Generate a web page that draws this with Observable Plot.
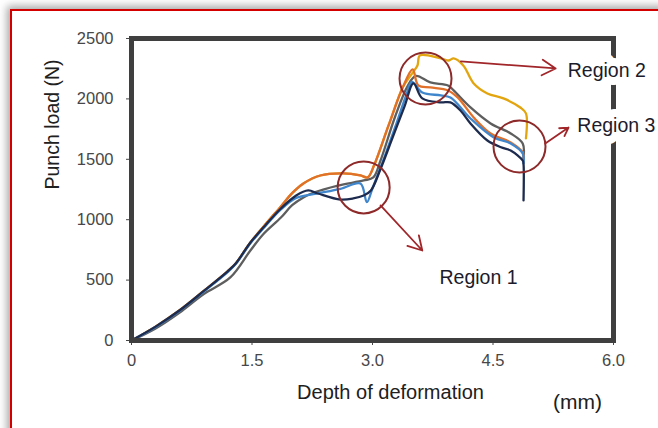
<!DOCTYPE html>
<html>
<head>
<meta charset="utf-8">
<script src="https://cdn.jsdelivr.net/npm/d3@7"></script>
<script src="https://cdn.jsdelivr.net/npm/@observablehq/plot@0.6"></script>
<style>
  html, body { margin: 0; padding: 0; background: #fff; width: 658px; height: 428px; overflow: hidden; }
  #sheet { position: absolute; left: 10px; top: 9px; width: 720px; height: 520px;
           border: 2px solid #d40000; box-shadow: 0 0 8px 3px rgba(0,0,0,0.35); background: #fff; }
  #chart { position: absolute; left: 0; top: 0; }
</style>
</head>
<body>
<div id="sheet"></div>
<div id="chart"></div>
<script>
// ---- tick labels ----
const xTicks = [0, 1.5, 3, 4.5, 6];
const xTickLabels = ["0", "1.5", "3.0", "4.5", "6.0"];
const yTicks = [0, 500, 1000, 1500, 2000, 2500];
const yTickLabels = ["0", "500", "1000", "1500", "2000", "2500"];

// ---- series (depth mm, load N) ----
const seriesNames = ["yellow", "gray", "orange", "blue", "navy"];

const yellowX = [0,0.3,0.6,0.9,1.2,1.3,1.48,1.64,1.86,2.0,2.14,2.35,2.64,2.85,2.94,3.02,3.2,3.38,3.49,3.56,3.59,3.85,3.95,4.01,4.13,4.26,4.43,4.63,4.84,4.91,4.91];
const yellowY = [0,115,250,410,575,640,811,940,1110,1220,1300,1366,1383,1366,1350,1450,1780,2100,2208,2277,2360,2335,2318,2335,2277,2128,2045,2004,1929,1880,1673];

const grayX = [0,0.3,0.6,0.9,1.23,1.48,1.64,1.86,2.0,2.14,2.27,2.57,2.89,3.01,3.1,3.28,3.44,3.54,3.72,3.94,4.01,4.22,4.47,4.72,4.87,4.88];
const grayY = [0,100,232,385,522,745,880,1018,1120,1184,1225,1283,1325,1350,1490,1850,2110,2190,2136,2111,2070,1929,1797,1714,1631,1515];

const orangeX = [0,0.3,0.6,0.9,1.2,1.3,1.48,1.64,1.86,2.0,2.14,2.35,2.64,2.85,2.94,3.02,3.2,3.38,3.5,3.57,3.72,3.94,4.06,4.26,4.47,4.72,4.87,4.88];
const orangeY = [0,115,250,410,575,640,811,940,1110,1220,1300,1366,1383,1366,1350,1450,1780,2100,2245,2111,2095,2070,2012,1846,1714,1640,1557,1490];

const blueX = [0,0.3,0.6,0.9,1.2,1.3,1.48,1.64,1.86,2.05,2.3,2.6,2.85,2.93,3.0,3.15,3.3,3.42,3.49,3.62,3.85,3.97,4.22,4.51,4.72,4.87,4.88];
const blueY = [0,112,246,405,568,635,805,928,1085,1180,1215,1255,1300,1145,1260,1520,1800,2030,2140,2053,2029,2012,1838,1681,1631,1548,1466];

const navyX = [0,0.3,0.6,0.9,1.2,1.3,1.48,1.64,1.86,2.05,2.2,2.32,2.6,2.76,2.89,2.98,3.1,3.25,3.4,3.51,3.62,3.85,3.97,4.1,4.22,4.43,4.6,4.72,4.87,4.88,4.88];
const navyY = [0,115,250,410,575,640,811,935,1093,1200,1242,1217,1167,1176,1200,1242,1420,1680,1940,2128,2004,1971,1971,1900,1797,1656,1600,1573,1490,1460,1160];

const seriesColors = ["#e2a50f", "#5e5e5e", "#e0702a", "#3f86cc", "#1d2b4f"];

// ---- annotations (data coordinates) ----
const regionLabels = ["Region 1", "Region 2", "Region 3"];
const circleX = [2.89, 3.66, 4.83];
const circleY = [1267, 2169, 1606];
const arrowX1 = [3.10, 4.10, 5.15];
const arrowY1 = [1118, 2310, 1631];
const arrowX2 = [3.62, 5.28, 5.44];
const arrowY2 = [745, 2252, 1763];
const labelX = [4.32, 5.43, 5.55];
const labelY = [522, 2235, 1780];

// ---- build tables ----
const xsAll = [yellowX, grayX, orangeX, blueX, navyX];
const ysAll = [yellowY, grayY, orangeY, blueY, navyY];
const lines = seriesNames.map((name, i) =>
  xsAll[i].map((x, j) => ({ series: name, x, y: ysAll[i][j] })));
const circles = regionLabels.map((r, i) => ({ r, x: circleX[i], y: circleY[i] }));
const arrows = regionLabels.map((r, i) => ({ r, x1: arrowX1[i], y1: arrowY1[i], x2: arrowX2[i], y2: arrowY2[i] }));
const labels = regionLabels.map((r, i) => ({ r, x: labelX[i], y: labelY[i] }));

const font = "'Liberation Sans', Arial, sans-serif";

const chart = Plot.plot({
  width: 658,
  height: 428,
  marginLeft: 131,
  marginRight: 45,
  marginTop: 38,
  marginBottom: 88,
  style: { fontFamily: font, background: "transparent", overflow: "visible" },
  x: { domain: [0, 6] },
  y: { domain: [0, 2500] },
  marks: [
    Plot.axisY({ ticks: yTicks, tickFormat: d => yTickLabels[yTicks.indexOf(d)], tickSize: 5, tickPadding: 13, fontSize: 16.5, color: "#474747", label: null }),
    Plot.axisX({ ticks: xTicks, tickFormat: d => xTickLabels[xTicks.indexOf(d)], tickSize: 5, tickPadding: 9, fontSize: 16.5, color: "#474747", label: null }),
    ...lines.map((data, i) => Plot.line(data, {
      x: "x", y: "y", stroke: seriesColors[i], strokeWidth: 2.3, curve: "catmull-rom", strokeLinejoin: "round"
    })),
    Plot.dot(circles, { x: "x", y: "y", r: 26, stroke: "#8e2a2a", strokeWidth: 2, fill: "none" }),
    Plot.arrow(arrows, { x1: "x1", y1: "y1", x2: "x2", y2: "y2", stroke: "#a0262a", strokeWidth: 1.8, headLength: 13, headAngle: 60 }),
    Plot.frame({ stroke: "#3f3f3f", strokeWidth: 5 }),
    Plot.text(labels.slice(0, 1), { x: "x", y: "y", text: "r", fontSize: 19.5, fill: "#1b1b2b", textAnchor: "middle", lineAnchor: "middle" }),
    Plot.text(labels.slice(1), { x: "x", y: "y", text: "r", fontSize: 19.5, fill: "#1b1b2b", textAnchor: "start", lineAnchor: "middle", stroke: "white", strokeWidth: 16 }),
    Plot.text(["Punch load (N)"], { frameAnchor: "left", dx: -79, rotate: -90, fontSize: 19.5, fill: "#202020", lineAnchor: "middle" }),
    Plot.text(["Depth of deformation"], { frameAnchor: "bottom", dx: 18, dy: 52, fontSize: 20, fill: "#202020", lineAnchor: "middle" }),
    Plot.text(["(mm)"], { frameAnchor: "bottom", dx: 205, dy: 62, fontSize: 21, fill: "#202020", lineAnchor: "middle" })
  ]
});
document.getElementById("chart").appendChild(chart);
</script>
</body>
</html>
